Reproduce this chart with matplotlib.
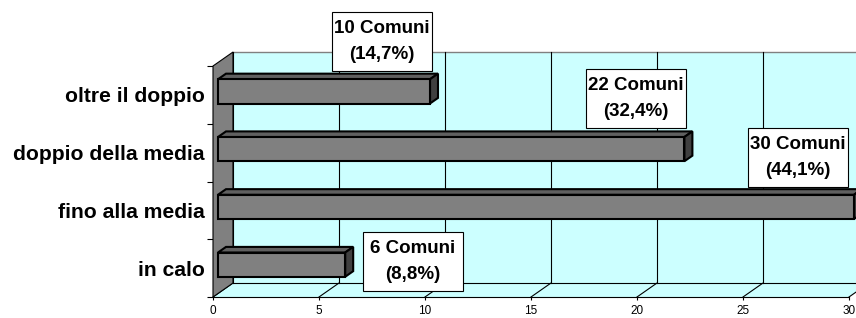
import matplotlib
matplotlib.use("Agg")
import matplotlib.pyplot as plt
from matplotlib.patches import Polygon, Rectangle
import numpy as np

# Data (bottom to top)
categories = ["in calo", "fino alla media", "doppio della media", "oltre il doppio"]
comuni = [6, 30, 22, 10]
x_ticks = [0, 5, 10, 15, 20, 25, 30]
# label box centres in data coordinates
label_x = [9.43, 27.58, 19.95, 7.97]
label_y = [0.614, 2.415, 3.437, 4.425]

total = sum(comuni)
plt.rcParams['font.family'] = ['Liberation Sans', 'DejaVu Sans']

fig = plt.figure(figsize=(8.56, 3.18), dpi=100)
ax = fig.add_axes([213 / 856, 21 / 318, 636 / 856, 231 / 318])
ax.set_xlim(0, 30)
ax.set_ylim(0, 4)
ax.patch.set_visible(False)
for s in ax.spines.values():
    s.set_visible(False)

# depth vector of the 3D box (data units)
dx, dy = 0.943, 0.242
cyan = '#ccffff'
n = len(categories)
xmax = x_ticks[-1]

# back wall
ax.add_patch(Polygon([(dx, dy), (xmax + dx, dy), (xmax + dx, n + dy), (dx, n + dy)],
                     closed=True, facecolor=cyan, edgecolor='none', clip_on=False, zorder=1))
ax.plot([dx, xmax + dx], [n + dy, n + dy], color='#808080', lw=1, clip_on=False, zorder=2)
# floor
ax.add_patch(Polygon([(0, 0), (xmax, 0), (xmax + dx, dy), (dx, dy)],
                     closed=True, facecolor=cyan, edgecolor='none', clip_on=False, zorder=1))
for xt in x_ticks:
    ax.plot([xt + dx, xt + dx], [dy, n + dy], color='black', lw=0.8, clip_on=False, zorder=2)
    ax.plot([xt, xt + dx], [0, dy], color='black', lw=0.8, clip_on=False, zorder=2)
ax.plot([dx, xmax + dx], [dy, dy], color='black', lw=0.8, clip_on=False, zorder=2)
ax.plot([0, xmax], [0, 0], color='black', lw=0.8, clip_on=False, zorder=2)
# left wall
ax.add_patch(Polygon([(0, 0), (dx, dy), (dx, n + dy), (0, n)],
                     closed=True, facecolor='#808080', edgecolor='black', lw=0.8,
                     clip_on=False, zorder=3))

# bars
d0, d1 = 0.25, 0.4
h = 0.42
y = np.arange(n) + 0.5 + d0 * dy
left = d0 * dx
ax.barh(y, comuni, height=h, left=left, color='#808080', edgecolor='black',
        linewidth=1.5, zorder=5, clip_on=False)
for yi, v in zip(y, comuni):
    x1 = left + v
    top, bot = yi + h / 2, yi - h / 2
    ax.add_patch(Polygon([(left, top), (x1, top), (x1 + d1 * dx, top + d1 * dy),
                          (left + d1 * dx, top + d1 * dy)], closed=True,
                         facecolor='#606060', edgecolor='black', lw=1.5, zorder=4, clip_on=False))
    ax.add_patch(Polygon([(x1, bot), (x1, top), (x1 + d1 * dx, top + d1 * dy),
                          (x1 + d1 * dx, bot + d1 * dy)], closed=True,
                         facecolor='#404040', edgecolor='black', lw=1.5, zorder=4, clip_on=False))

# value labels
box_w, box_h = 100 / 21.2, 59 / 57.75
for v, lx, ly in zip(comuni, label_x, label_y):
    pct = f"{100 * v / total:.1f}".replace('.', ',')
    ax.add_patch(Rectangle((lx - box_w / 2, ly - box_h / 2), box_w, box_h, facecolor='white',
                           edgecolor='black', lw=0.8, zorder=9, clip_on=False))
    ax.text(lx, ly, f"{v} Comuni\n({pct}%)", ha='center', va='center', fontsize=13.5,
            fontweight='bold', linespacing=1.65, zorder=10, clip_on=False)

# axes ticks
ax.set_xticks(x_ticks)
ax.set_xticklabels([str(t) for t in x_ticks], fontsize=8.5)
ax.tick_params(axis='x', length=2, width=0.8, pad=3.5)
ax.set_yticks(range(n + 1))
ax.set_yticklabels([])
ax.tick_params(axis='y', which='major', length=4, width=0.8)
ax.set_yticks(np.arange(n) + 0.5, minor=True)
ax.set_yticklabels(categories, minor=True, fontsize=15.2, fontweight='bold')
ax.tick_params(axis='y', which='minor', length=0, pad=6)

fig.savefig("out.png", dpi=100)
